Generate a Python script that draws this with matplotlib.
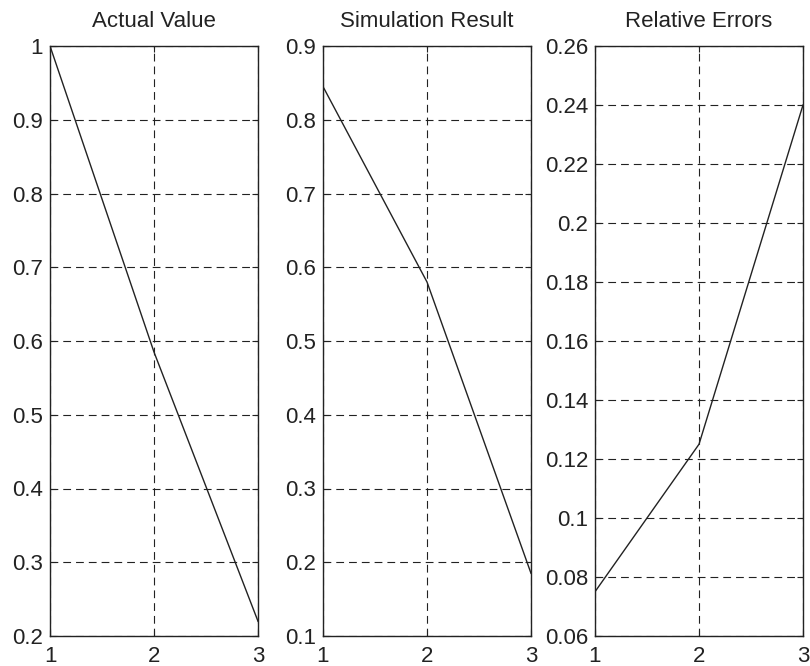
import matplotlib
matplotlib.use("Agg")
import matplotlib.pyplot as plt

plt.rcParams['font.family'] = ['Liberation Sans', 'DejaVu Sans']

x = [1, 2, 3]
actual = [1.0, 0.585, 0.22]
simulation = [0.845, 0.58, 0.185]
errors = [0.075, 0.125, 0.24]

titles = ["Actual Value", "Simulation Result", "Relative Errors"]
series = [actual, simulation, errors]
ylims = [(0.2, 1.0), (0.1, 0.9), (0.06, 0.26)]
yticks = [
    [0.2, 0.3, 0.4, 0.5, 0.6, 0.7, 0.8, 0.9, 1.0],
    [0.1, 0.2, 0.3, 0.4, 0.5, 0.6, 0.7, 0.8, 0.9],
    [0.06, 0.08, 0.1, 0.12, 0.14, 0.16, 0.18, 0.2, 0.22, 0.24, 0.26],
]
yticklabels = [
    ["0.2", "0.3", "0.4", "0.5", "0.6", "0.7", "0.8", "0.9", "1"],
    ["0.1", "0.2", "0.3", "0.4", "0.5", "0.6", "0.7", "0.8", "0.9"],
    ["0.06", "0.08", "0.1", "0.12", "0.14", "0.16", "0.18", "0.2", "0.22", "0.24", "0.26"],
]
xticks = [1, 2, 3]

fig = plt.figure(figsize=(8.1, 6.66), dpi=100)
lefts = [50 / 810, 323 / 810, 595 / 810]
w = 208 / 810
b = 30 / 666
h = 590 / 666

for i in range(3):
    ax = fig.add_axes([lefts[i], b, w, h])
    ax.plot(x, series[i], color='#222222', linewidth=1.0)
    ax.set_xlim(1, 3)
    ax.set_ylim(*ylims[i])
    ax.set_xticks(xticks)
    ax.set_xticklabels([str(t) for t in xticks])
    ax.set_yticks(yticks[i])
    ax.set_yticklabels(yticklabels[i])
    ax.grid(True, color='#222222', linestyle=(0, (7, 4.5)), linewidth=0.8)
    ax.tick_params(direction='in', top=True, right=True, labelsize=16,
                   length=4, colors='#222222')
    ax.tick_params(axis='y', pad=5)
    ax.tick_params(axis='x', pad=7)
    for s in ax.spines.values():
        s.set_linewidth(1.0)
        s.set_color('#222222')
    ax.set_title(titles[i], fontsize=16, pad=14, color='#222222')

fig.savefig("out.png", dpi=100, facecolor='white')
